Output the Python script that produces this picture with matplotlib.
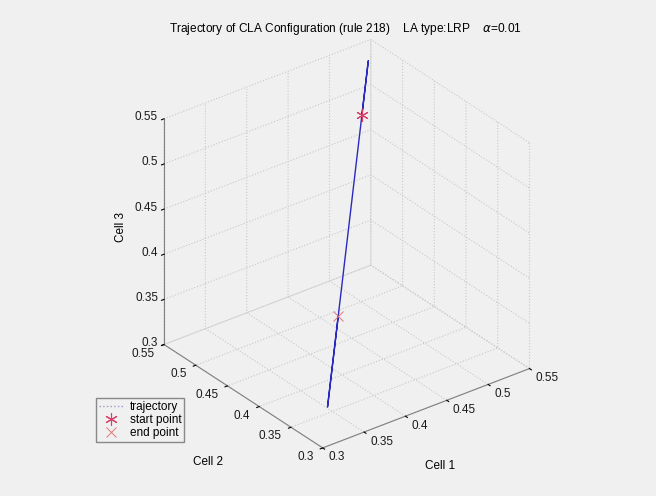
import matplotlib
matplotlib.use("Agg")
import matplotlib.pyplot as plt
from matplotlib.transforms import IdentityTransform
from mpl_toolkits.mplot3d import proj3d

# Action probabilities of the three cells along the run
cell1 = [0.504, 0.537, 0.325, 0.381]
cell2 = [0.504, 0.537, 0.325, 0.381]
cell3 = [0.504, 0.537, 0.325, 0.381]

start_pt = (0.504, 0.504, 0.504)
end_pt = (0.381, 0.381, 0.381)

ticks = [0.3, 0.35, 0.4, 0.45, 0.5, 0.55]
tick_labels = ["0.3", "0.35", "0.4", "0.45", "0.5", "0.55"]
lo, hi = 0.3, 0.55

plt.rcParams["font.family"] = ["Liberation Sans", "DejaVu Sans"]
plt.rcParams["grid.color"] = "#c8c8c8"
plt.rcParams["grid.linestyle"] = ":"
plt.rcParams["grid.linewidth"] = 0.8

bg = "#f0f0f0"
fig = plt.figure(figsize=(6.56, 4.96), dpi=100, facecolor=bg)
ax = fig.add_axes([0.019, 0.026, 1.0, 0.94], projection="3d", proj_type="ortho")
ax.set_facecolor(bg)

ax.plot(cell1, cell2, cell3, color="#2a2ac0", lw=1.0, label="trajectory")
ax.plot([start_pt[0]], [start_pt[1]], [start_pt[2]], ls="none", marker=(6, 2, 0),
        ms=9, mew=0.8, color="#d8406c", label="start point")
ax.plot([end_pt[0]], [end_pt[1]], [end_pt[2]], ls="none", marker="x",
        ms=7, mew=0.7, color="#e07878", label="end point")

ax.set_xlim(lo, hi)
ax.set_ylim(lo, hi)
ax.set_zlim(lo, hi)
for axis in (ax.xaxis, ax.yaxis, ax.zaxis):
    axis.set_ticks(ticks)
    axis.set_ticklabels([])
    axis.set_pane_color((1, 1, 1, 0))
    axis.pane.set_edgecolor((1, 1, 1, 0))
    axis.line.set_color("#808080")
    axis._axinfo["tick"]["inward_factor"] = 0.15
    axis._axinfo["tick"]["outward_factor"] = 0.0
    axis._axinfo["tick"]["color"] = "#808080"

ax.view_init(elev=30, azim=-127.5)
ax.set_box_aspect((1, 1, 1), zoom=0.94)

fig.canvas.draw()
M = ax.get_proj()


def to_px(x, y, z):
    xs, ys, _ = proj3d.proj_transform(x, y, z, M)
    return ax.transData.transform((xs, ys))


# tick labels placed next to the axis edges drawn by the 3D axes
font_kw = dict(fontsize=8.5, color="#1a1a1a", transform=IdentityTransform())
for t, s in zip(ticks, tick_labels):
    px, py = to_px(t, lo, lo)          # Cell 1 edge
    fig.text(px + 6, py - 9.5, s, ha="left", va="center", **font_kw)
    px, py = to_px(lo, t, lo)          # Cell 2 edge
    fig.text(px - 9, py - 9, s, ha="right", va="center", **font_kw)
    px, py = to_px(lo, hi, t)          # Cell 3 edge
    fig.text(px - 6, py + 1.5, s, ha="right", va="center", **font_kw)

fig.text(440 / 656, 1 - 466 / 496, "Cell 1", fontsize=8.5, ha="center", va="center")
fig.text(208 / 656, 1 - 462 / 496, "Cell 2", fontsize=8.5, ha="center", va="center")
fig.text(121 / 656, 1 - 227 / 496, "Cell 3", fontsize=8.5, ha="center", va="center",
         rotation=90)

fig.text(345 / 656, 1 - 29 / 496,
         "Trajectory of CLA Configuration (rule 218)    LA type:LRP    $\\alpha$=0.01",
         fontsize=8.6, ha="center", va="center")
leg = ax.legend(loc="upper left", bbox_to_anchor=(96 / 656, 1 - 398 / 496),
                bbox_transform=fig.transFigure, fontsize=8.5,
                fancybox=False, framealpha=1, facecolor=bg, edgecolor="#888888",
                handlelength=2.1, borderpad=0.25, labelspacing=0.08,
                handletextpad=0.5, borderaxespad=0)
leg.get_lines()[0].set_linestyle(":")
leg.get_lines()[0].set_color("#9a9ac8")

fig.savefig("out.png", dpi=100, facecolor=bg)
